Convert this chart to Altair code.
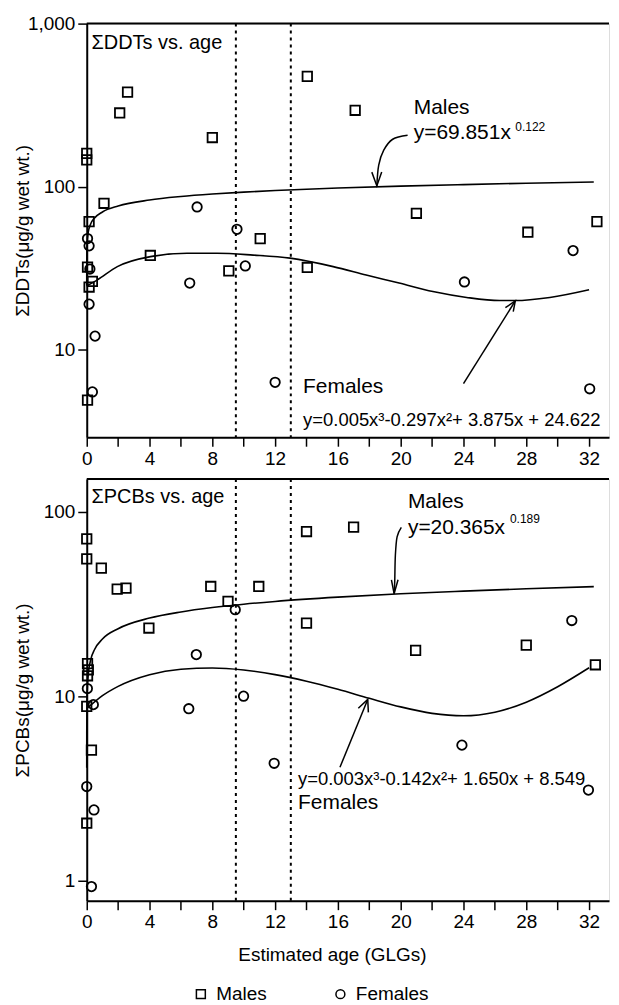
import altair as alt
import pandas as pd

FONT = "Liberation Sans"
W = 524
H1 = 415
H2 = 423
XMAX = 33.27

# ---------------- Top panel: sum DDTs ----------------
ddt_m_age = [0, 0, 2.1, 2.6, 8.0, 1.1, 0.15, 11.05, 14.05, 17.1, 21.0, 28.1, 32.5,
             4.05, 9.05, 14.05, 0.05, 0.15, 0.36, 0.05]
ddt_m_val = [160, 146, 283, 380, 200, 79, 61, 48, 474, 294, 68.6, 52.5, 61,
             37.8, 30.4, 31.9, 32.1, 24.2, 26.2, 4.9]
ddt_f_age = [7.03, 9.57, 0.05, 0.15, 0.2, 10.1, 6.56, 0.15, 0.53, 0.36, 12.0, 24.06, 30.98, 32.04]
ddt_f_val = [75, 54.7, 48, 43.3, 31.2, 32.6, 25.6, 19.0, 12.1, 5.5, 6.3, 26, 40.5, 5.75]

ddt_mfit_x = [0.0002, 0.002, 0.02, 0.1, 0.25, 0.5, 1, 2, 4, 6, 8, 10, 12, 16, 20, 24, 28, 32.3]
ddt_mfit_y = [24.7, 32.7, 43.3, 52.7, 59.0, 64.2, 69.9, 76.0, 82.7, 86.9, 90.0, 92.5, 94.6,
              98.0, 100.7, 102.9, 104.9, 106.8]
ddt_ffit_x = [0, 0.68, 1.95, 4.06, 6.39, 8.3, 10.6, 12.95, 15.7, 17.8, 19.9, 22.05, 24.2,
              26.3, 27.3, 29.5, 32.0]
ddt_ffit_y = [24.6, 26.8, 32.3, 37.2, 39.0, 39.0, 38.0, 36.4, 32.3, 28.7, 25.6, 22.7, 20.9,
              20.0, 20.0, 20.9, 23.3]

# ---------------- Bottom panel: sum PCBs ----------------
pcb_m_age = [0, 0, 0.93, 1.94, 2.5, 7.9, 10.96, 9.0, 3.96, 14.0, 14.0, 17.0, 20.95, 28.0,
             32.4, 0.05, 0.1, 0.05, 0, 0.3, 0]
pcb_m_val = [71.2, 55.5, 49.4, 38, 38.5, 39.3, 39.3, 32.6, 23.4, 78, 24.9, 82.4, 17.7, 18.9,
             14.8, 15.0, 13.9, 12.9, 8.8, 5.1, 2.05]
pcb_f_age = [9.46, 6.98, 9.99, 6.5, 0.04, 0.42, 11.94, 0, 0.46, 0.3, 23.9, 31.96, 30.9]
pcb_f_val = [29.4, 16.8, 10.0, 8.55, 11.0, 9.0, 4.33, 3.24, 2.42, 0.93, 5.43, 3.1, 25.7]

pcb_mfit_x = [0.0002, 0.002, 0.02, 0.1, 0.25, 0.5, 1, 2, 4, 6, 8, 10, 12, 16, 20, 24, 28, 32.3]
pcb_mfit_y = [4.1, 6.3, 9.7, 13.2, 15.7, 17.9, 20.4, 23.2, 26.5, 28.6, 30.2, 31.5, 32.6,
              34.4, 35.9, 37.1, 38.2, 39.2]
pcb_ffit_x = [0, 1, 2, 4, 6, 8, 10, 12, 14, 16, 18, 20, 22, 24, 26, 28, 30, 32]
pcb_ffit_y = [8.55, 10.06, 11.3, 13.07, 13.99, 14.2, 13.85, 13.09, 12.05, 10.89, 9.74, 8.75,
              8.07, 7.83, 8.19, 9.28, 11.25, 14.25]

ref_lines = [9.5, 13.0]
x_ticks = list(range(0, 34, 2))

# annotation texts (x in age units, y in data units)
ddt_txt = ["ΣDDTs vs. age", "Males", "y=69.851x", "0.122", "Females",
           "y=0.005x³-0.297x²+ 3.875x + 24.622"]
ddt_txt_x = [0.3, 20.83, 20.83, 27.3, 13.78, 13.78]
ddt_txt_y = [765, 302, 212, 232, 5.9, 3.7]
ddt_txt_fs = [20, 21, 21, 12, 21, 18.5]

pcb_txt = ["ΣPCBs vs. age", "Males", "y=20.365x", "0.189",
           "y=0.003x³-0.142x²+ 1.650x + 8.549", "Females"]
pcb_txt_x = [0.3, 20.46, 20.46, 26.96, 13.46, 13.46]
pcb_txt_y = [120.5, 113.3, 81.3, 91, 3.55, 2.63]
pcb_txt_fs = [20, 21, 21, 12, 18.5, 21]

# arrows: curved shaft (male), straight shaft (female), heads
ddt_arrow_x = [20.44, 19.49, 18.92, 18.6, 18.48]
ddt_arrow_y = [206.5, 195.2, 167.2, 135.3, 101]
ddt_head_x = [18.16, 18.48, 18.79]
ddt_head_y = [122.7, 101, 122.7]
ddt_farrow_x = [24.0, 27.3]
ddt_farrow_y = [6.19, 19.9]
ddt_fhead_x = [26.67, 27.3, 27.17]
ddt_fhead_y = [18.07, 19.9, 17.08]

pcb_arrow_x = [20.04, 19.77, 19.66, 19.62, 19.58]
pcb_arrow_y = [82.2, 73.0, 57.8, 41.9, 35.9]
pcb_head_x = [19.41, 19.58, 19.83]
pcb_head_y = [42.7, 35.9, 42.7]
pcb_farrow_x = [16.13, 17.9]
pcb_farrow_y = [4.12, 9.6]
pcb_fhead_x = [17.3, 17.9, 17.94]
pcb_fhead_y = [8.6, 9.6, 8.17]


def panel(m_age, m_val, f_age, f_val, mfx, mfy, ffx, ffy, txt, tx, ty, tfs,
          ax, ay, hx, hy, fax, fay, fhx, fhy, ydomain, yticks, ytitle, height, bottom):
    pts = pd.DataFrame({
        "age": m_age + f_age,
        "val": m_val + f_val,
        "sex": ["Males"] * len(m_age) + ["Females"] * len(f_age),
    })
    fits = pd.DataFrame({
        "age": mfx + ffx,
        "val": mfy + ffy,
        "curve": ["m"] * len(mfx) + ["f"] * len(ffx),
        "o": list(range(len(mfx))) + list(range(len(ffx))),
    })
    texts = pd.DataFrame({"age": tx, "val": ty, "t": txt, "fs": tfs})
    shaft = pd.DataFrame({"age": ax, "val": ay, "o": list(range(len(ax)))})
    straight = pd.DataFrame({
        "age": hx + fax + fhx,
        "val": hy + fay + fhy,
        "g": ["a"] * len(hx) + ["b"] * len(fax) + ["c"] * len(fhx),
        "o": list(range(len(hx))) + list(range(len(fax))) + list(range(len(fhx))),
    })
    refs = pd.DataFrame({"age": ref_lines})

    xscale = alt.Scale(domain=[0, XMAX], nice=False, zero=False)
    yscale = alt.Scale(type="log", domain=ydomain, nice=False)

    xaxis = alt.Axis(
        values=x_ticks,
        labelExpr="datum.value % 4 == 0 ? datum.label : ''",
        tickSize=9, tickWidth=1.5, tickColor="black",
        domainWidth=2, domainColor="black",
        labelFontSize=19, labelFont=FONT, labelColor="black", labelPadding=3,
        labelFlush=False, grid=False,
        title="Estimated age (GLGs)" if bottom else None,
        titleFont=FONT, titleFontSize=19, titleFontWeight="normal", titleColor="black",
        titleX=246, titleY=54, titleAnchor="middle", titleBaseline="middle",
    )
    yaxis = alt.Axis(
        values=yticks, format=",",
        tickSize=9, tickWidth=1.5, tickColor="black",
        domainWidth=2, domainColor="black",
        labelFontSize=19, labelFont=FONT, labelColor="black", labelPadding=3,
        grid=False,
        title=ytitle, titleFont=FONT, titleFontSize=19, titleFontWeight="normal",
        titleColor="black", titleAngle=270, titleX=-64, titleY=height / 2,
        titleAlign="center", titleBaseline="middle",
    )

    base_x = alt.X("age:Q", scale=xscale, axis=xaxis)
    base_y = alt.Y("val:Q", scale=yscale, axis=yaxis)

    top_rule = alt.Chart(pd.DataFrame({"a": [0]})).mark_rule(
        color="black", strokeWidth=2
    ).encode(x=alt.value(0), x2=alt.value(W), y=alt.value(0))

    ref = alt.Chart(refs).mark_rule(
        color="black", strokeWidth=2, strokeDash=[3, 4]
    ).encode(x=alt.X("age:Q", scale=xscale, axis=xaxis))

    fit = alt.Chart(fits).mark_line(
        color="black", strokeWidth=1.6, interpolate="monotone"
    ).encode(x=base_x, y=base_y, detail="curve:N", order="o:Q")

    points = alt.Chart(pts).mark_point(
        filled=False, color="black", strokeWidth=1.8, size=90, opacity=1
    ).encode(
        x=base_x, y=base_y,
        shape=alt.Shape(
            "sex:N",
            scale=alt.Scale(domain=["Males", "Females"], range=["square", "circle"]),
            legend=alt.Legend(
                title=None, orient="none", direction="horizontal",
                legendX=105, legendY=964,
                labelFont=FONT, labelFontSize=19, labelColor="black",
                symbolSize=80, symbolStrokeWidth=1.5, symbolStrokeColor="black",
                symbolFillColor="white", labelOffset=6, columnPadding=64,
            ),
        ),
    )

    labels = alt.Chart(texts).mark_text(
        align="left", baseline="middle", font=FONT, color="black"
    ).encode(
        x=alt.X("age:Q", scale=xscale, axis=xaxis),
        y=alt.Y("val:Q", scale=yscale, axis=yaxis),
        text="t:N",
        size=alt.Size("fs:Q", scale=None, legend=None),
    )

    curved = alt.Chart(shaft).mark_line(
        color="black", strokeWidth=1.5, interpolate="cardinal"
    ).encode(x=base_x, y=base_y, order="o:Q")

    heads = alt.Chart(straight).mark_line(
        color="black", strokeWidth=1.5
    ).encode(x=base_x, y=base_y, detail="g:N", order="o:Q")

    return alt.layer(ref, top_rule, fit, curved, heads, points, labels).properties(
        width=W, height=height
    )


top = panel(ddt_m_age, ddt_m_val, ddt_f_age, ddt_f_val,
            ddt_mfit_x, ddt_mfit_y, ddt_ffit_x, ddt_ffit_y,
            ddt_txt, ddt_txt_x, ddt_txt_y, ddt_txt_fs,
            ddt_arrow_x, ddt_arrow_y, ddt_head_x, ddt_head_y,
            ddt_farrow_x, ddt_farrow_y, ddt_fhead_x, ddt_fhead_y,
            [2.9, 1000], [10, 100, 1000], "ΣDDTs(μg/g wet wt.)", H1, False)

bottom = panel(pcb_m_age, pcb_m_val, pcb_f_age, pcb_f_val,
               pcb_mfit_x, pcb_mfit_y, pcb_ffit_x, pcb_ffit_y,
               pcb_txt, pcb_txt_x, pcb_txt_y, pcb_txt_fs,
               pcb_arrow_x, pcb_arrow_y, pcb_head_x, pcb_head_y,
               pcb_farrow_x, pcb_farrow_y, pcb_fhead_x, pcb_fhead_y,
               [0.78, 150], [1, 10, 100], "ΣPCBs(μg/g wet wt.)", H2, True)

chart = alt.vconcat(top, bottom, spacing=8).resolve_scale(
    x="independent", y="independent"
).properties(
    padding={"left": 5, "top": 4, "right": 0, "bottom": 0}
).configure_view(stroke=None).configure(background="white")

chart.save("out.html", embed_options={"renderer": "svg", "actions": False})
